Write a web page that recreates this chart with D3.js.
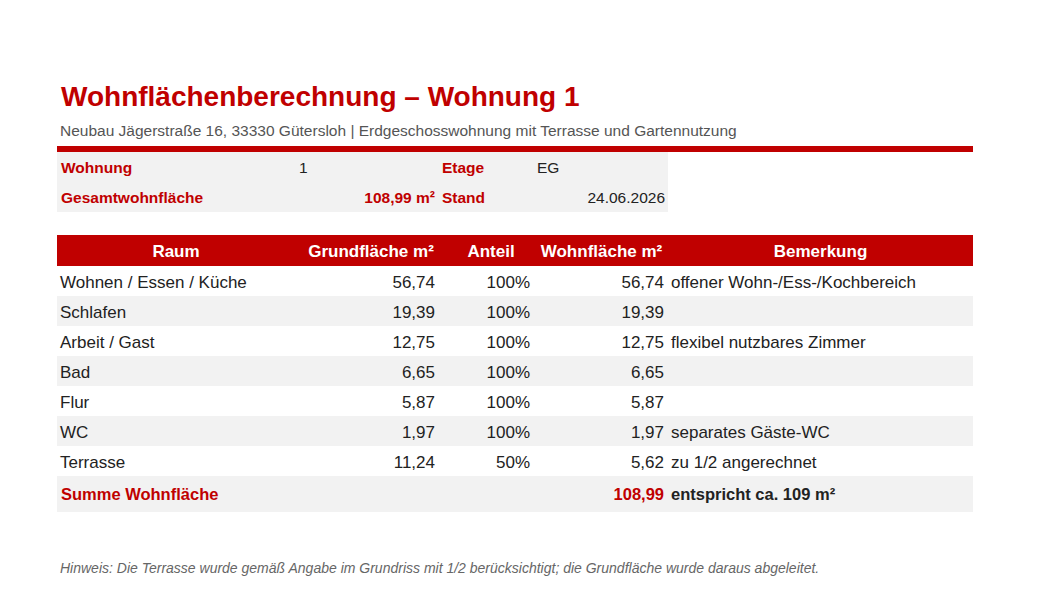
<!DOCTYPE html>
<html><head><meta charset="utf-8">
<script src="https://cdn.jsdelivr.net/npm/d3@7"></script>
<style>body{margin:0;background:#fff}svg{font-family:"Liberation Sans",Arial,sans-serif}</style>
</head><body>
<script>
const rooms = ["Wohnen / Essen / Küche","Schlafen","Arbeit / Gast","Bad","Flur","WC","Terrasse"];
const grundflaeche = [56.74,19.39,12.75,6.65,5.87,1.97,11.24];
const anteil = [100,100,100,100,100,100,50];
const wohnflaeche = [56.74,19.39,12.75,6.65,5.87,1.97,5.62];
const bemerkung = ["offener Wohn-/Ess-/Kochbereich","","flexibel nutzbares Zimmer","","","separates Gäste-WC","zu 1/2 angerechnet"];
const headers = ["Raum","Grundfläche m²","Anteil","Wohnfläche m²","Bemerkung"];
const summe = 108.99;

const red = "#c00000", gray = "#f2f2f2", txt = "#222";
const fmt = v => v.toFixed(2).replace(".", ",");
const svg = d3.select("body").append("svg").attr("width",1042).attr("height",615);

svg.append("text").attr("x",61).attr("y",106).attr("fill",red).attr("font-size",28).attr("font-weight","bold")
  .text("Wohnflächenberechnung – Wohnung 1");
svg.append("text").attr("x",60).attr("y",136).attr("fill","#555").attr("font-size",15.5)
  .text("Neubau Jägerstraße 16, 33330 Gütersloh | Erdgeschosswohnung mit Terrasse und Gartennutzung");
svg.append("rect").attr("x",57).attr("y",146).attr("width",916).attr("height",6).attr("fill",red);

// info block
svg.append("rect").attr("x",57).attr("y",152).attr("width",611).attr("height",60).attr("fill",gray);
const info = [
  [{t:"Wohnung",x:61,a:"start",b:1},{t:"1",x:299,a:"start"},{t:"Etage",x:442,a:"start",b:1},{t:"EG",x:537,a:"start"}],
  [{t:"Gesamtwohnfläche",x:61,a:"start",b:1},{t:fmt(summe)+" m²",x:435,a:"end",b:1},{t:"Stand",x:442,a:"start",b:1},{t:"24.06.2026",x:665,a:"end"}]
];
info.forEach((row,i)=>{
  svg.append("g").selectAll("text").data(row).join("text")
    .attr("x",d=>d.x).attr("y",173+i*30).attr("text-anchor",d=>d.a)
    .attr("font-size",15.5).attr("font-weight",d=>d.b?"bold":"normal")
    .attr("fill",d=>d.b?red:txt).text(d=>d.t);
});

// table
const colEdges = [57,295,447,535,668,973];
const y = d3.scaleBand().domain(d3.range(rooms.length)).range([266,476]);
svg.append("rect").attr("x",57).attr("y",235).attr("width",916).attr("height",31).attr("fill",red);
svg.append("g").selectAll("text").data(headers).join("text")
  .attr("x",(d,i)=>(colEdges[i]+colEdges[i+1])/2).attr("y",257).attr("text-anchor","middle")
  .attr("fill","#fff").attr("font-weight","bold").attr("font-size",17).text(d=>d);

const rows = svg.append("g").selectAll("g").data(rooms).join("g")
  .attr("transform",(d,i)=>`translate(0,${y(i)})`);
rows.append("rect").attr("x",57).attr("width",916).attr("height",y.bandwidth())
  .attr("fill",(d,i)=>i%2?gray:"#fff");
const cells = (d,i)=>[
  {t:d,x:60,a:"start"},
  {t:fmt(grundflaeche[i]),x:435,a:"end"},
  {t:anteil[i]+"%",x:530,a:"end"},
  {t:fmt(wohnflaeche[i]),x:664,a:"end"},
  {t:bemerkung[i],x:671,a:"start"}];
rows.selectAll("text").data(cells).join("text")
  .attr("x",c=>c.x).attr("y",22).attr("text-anchor",c=>c.a)
  .attr("font-size",17).attr("fill",txt).text(c=>c.t);

svg.append("rect").attr("x",57).attr("y",476).attr("width",916).attr("height",36).attr("fill",gray);
[{t:"Summe Wohnfläche",x:61,a:"start",c:red},{t:fmt(summe),x:664,a:"end",c:red},{t:"entspricht ca. 109 m²",x:671,a:"start",c:txt}]
  .forEach(d=>svg.append("text").attr("x",d.x).attr("y",500).attr("text-anchor",d.a).attr("font-size",16.5)
    .attr("font-weight","bold").attr("fill",d.c).text(d.t));

svg.append("text").attr("x",60).attr("y",573).attr("font-size",14).attr("font-style","italic").attr("fill","#666")
  .text("Hinweis: Die Terrasse wurde gemäß Angabe im Grundriss mit 1/2 berücksichtigt; die Grundfläche wurde daraus abgeleitet.");
</script>
</body></html>
